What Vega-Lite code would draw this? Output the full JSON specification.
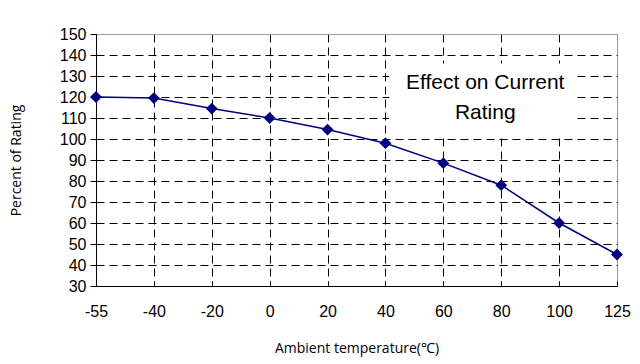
{
  "$schema": "https://vega.github.io/schema/vega-lite/v6.json",
  "width": 521,
  "height": 252,
  "autosize": {"type": "none"},
  "padding": {"left": 96, "top": 34, "right": 23, "bottom": 78},
  "background": "white",
  "config": {
    "view": {"stroke": "#9a9a9a", "strokeWidth": 1},
    "axis": {"labelFont": "Liberation Sans", "labelFontSize": 16, "labelColor": "#000", "titleFont": "Open Sans", "titleFontWeight": "normal", "titleFontSize": 14, "titleColor": "#000", "domainColor": "#000", "tickColor": "#000"}
  },
  "data": {"values": [
    {"temp": -55, "pct": 120},
    {"temp": -40, "pct": 119.5},
    {"temp": -20, "pct": 114.5},
    {"temp": 0, "pct": 110},
    {"temp": 20, "pct": 104.5},
    {"temp": 40, "pct": 98},
    {"temp": 60, "pct": 88.5},
    {"temp": 80, "pct": 78},
    {"temp": 100, "pct": 60},
    {"temp": 125, "pct": 45}
  ]},
  "encoding": {
    "x": {"field": "temp", "type": "ordinal", "scale": {"type": "point", "padding": 0},
      "axis": {"title": "Ambient temperature(℃)", "labelAngle": 0, "labelPadding": 22, "titlePadding": 22, "tickSize": -5,
        "grid": true, "gridColor": {"condition": {"test": "datum.value == 125", "value": "#9a9a9a"}, "value": "#000"}, "gridDash": {"condition": {"test": "datum.value == 125", "value": []}, "value": [8, 5]}, "gridWidth": 1}},
    "y": {"field": "pct", "type": "quantitative", "scale": {"domain": [30, 150], "nice": false, "zero": false},
      "axis": {"title": "Percent of Rating", "values": [30,40,50,60,70,80,90,100,110,120,130,140,150], "tickSize": 6, "labelPadding": 4, "titlePadding": 36,
        "grid": true, "gridColor": {"condition": {"test": "datum.value == 150", "value": "#9a9a9a"}, "value": "#000"}, "gridDash": {"condition": {"test": "datum.value == 150", "value": []}, "value": [8, 5]}, "gridWidth": 1}}
  },
  "layer": [
    {
      "data": {"values": [{"bx": 80, "y1": 136, "y2": 101.5, "label": "Effect on Current\nRating", "ty": 126.5}]},
      "layer": [
        {
          "mark": {"type": "bar", "fill": "white", "stroke": null, "opacity": 1, "width": 186, "xOffset": -19},
          "encoding": {
            "x": {"field": "bx", "type": "ordinal"},
            "y": {"field": "y1", "type": "quantitative"},
            "y2": {"field": "y2"}
          }
        },
        {
          "mark": {"type": "text", "font": "Liberation Sans", "fontSize": 21, "fontWeight": "normal", "fill": "#000", "align": "center", "baseline": "middle", "dx": -16, "lineBreak": "\n", "lineHeight": 30},
          "encoding": {
            "x": {"field": "bx", "type": "ordinal"},
            "y": {"field": "ty", "type": "quantitative"},
            "text": {"field": "label"}
          }
        }
      ]
    },
    {
      "mark": {"type": "line", "color": "#000080", "strokeWidth": 1.5}
    },
    {
      "mark": {"type": "point", "shape": "diamond", "filled": true, "color": "#000080", "size": 140, "opacity": 1}
    }
  ]
}
